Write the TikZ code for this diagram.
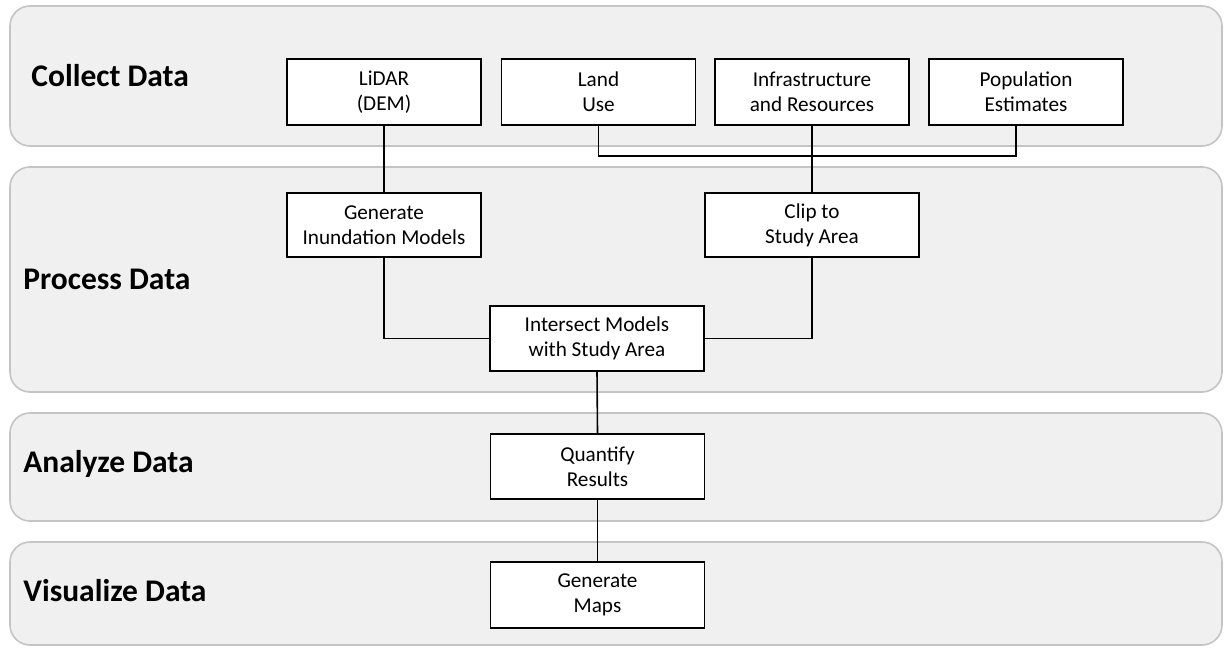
\documentclass[tikz,border=0pt]{standalone}
\usepackage{fontspec}
\setmainfont{Carlito}
\definecolor{bandfill}{HTML}{F0F0F0}
\definecolor{bandline}{HTML}{C4C4C4}
\begin{document}
\begin{tikzpicture}[x=0.5pt,y=-0.5pt,
  band/.style={fill=bandfill,draw=bandline,line width=0.8pt,rounded corners=10pt},
  stage/.style={anchor=base west,inner sep=0pt,font=\fontsize{15.75}{19}\selectfont\bfseries},
  stepbox/.style={draw=black,fill=white,line width=0.8pt,inner sep=0pt,align=center,
    minimum width=97pt,minimum height=33pt,font=\fontsize{10.6}{12.5}\selectfont},
  wide/.style={minimum width=107pt},
  link/.style={draw=black,line width=0.8pt}]
\useasboundingbox (0,0) rectangle (1224,647);

% phase bands
\path[band] (10,6) rectangle (1222,146);
\path[band] (10,167) rectangle (1222,392);
\path[band] (10,413) rectangle (1222,521);
\path[band] (10,542) rectangle (1222,645);

% phase titles
\node[stage] (tcollect) at (31,87) {Collect Data};
\node[stage] (tprocess) at (23,289) {Process Data};
\node[stage] (tanalyze) at (23,472) {Analyze Data};
\node[stage] (tvisual)  at (23,601) {Visualize Data};

% steps
\node[stepbox] (lidar) at (384,92) {LiDAR\\(DEM)};
\node[stepbox] (land)  at (598.5,92) {Land\\Use};
\node[stepbox] (infra) at (812,92) {Infrastructure\\and Resources};
\node[stepbox] (pop)   at (1026,92) {Population\\Estimates};
\node[stepbox,minimum height=32pt] (gen)  at (384,225) {Generate\\Inundation Models};
\node[stepbox,wide,minimum height=32pt] (clip) at (812,225) {Clip to\\Study Area};
\node[stepbox,wide,minimum height=32.5pt] (inter) at (597,338.5) {Intersect Models\\with Study Area};
\node[stepbox,wide,minimum height=32.5pt] (quant) at (597.5,466.5) {Quantify\\Results};
\node[stepbox,wide] (maps) at (597.5,595) {Generate\\Maps};

% connectors
\coordinate (bus) at (812,156);
\draw[link] (lidar.south) -- (gen.north);
\draw[link] (land.south) |- (bus) -| ([xshift=-5pt]pop.south);
\draw[link] (infra.south) -- (clip.north);
\draw[link] (gen.south) |- (inter.west);
\draw[link] (clip.south) |- (inter.east);
\draw[link] (inter.south) -- (quant.north);
\draw[link] (quant.south) -- (maps.north);
\end{tikzpicture}
\end{document}
